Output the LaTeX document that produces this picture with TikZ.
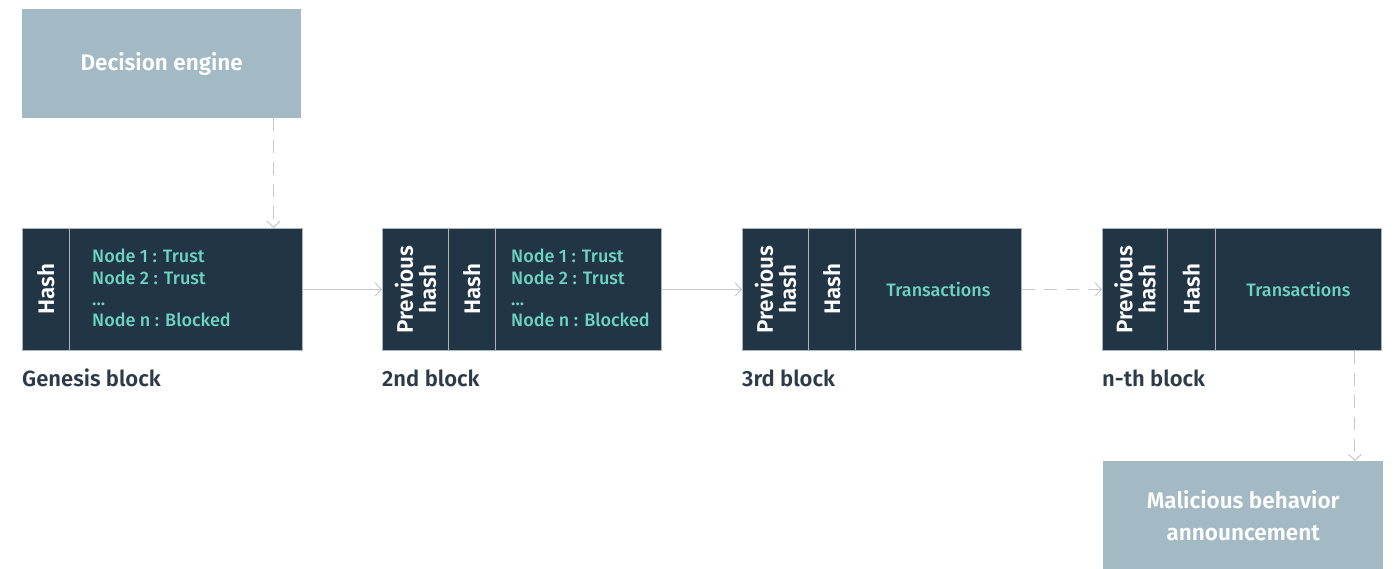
\documentclass[tikz,border=0pt]{standalone}
\usepackage{fontspec}
\IfFontExistsTF{Fira Sans SemiBold}
  {\setmainfont{Fira Sans}[BoldFont={Fira Sans SemiBold}]}
  {\setmainfont{Fira Sans}}
\IfFontExistsTF{Fira Sans Medium}
  {\newfontfamily\medfont{Fira Sans Medium}}
  {\newfontfamily\medfont{Fira Sans}}
\usetikzlibrary{arrows.meta}
\definecolor{darkcell}{HTML}{213545}
\definecolor{palebox}{HTML}{A3BAC4}
\definecolor{tealtext}{HTML}{6DD4C2}
\definecolor{lbltext}{HTML}{2B3B4A}
\definecolor{conncol}{HTML}{C8C8C8}
\definecolor{edgecol}{HTML}{A9B4BC}
\begin{document}
\begin{tikzpicture}[x=1pt,y=-1pt,
  cell/.style={draw=edgecol, line width=0.8pt, fill=darkcell, minimum height=122pt, inner sep=0pt, anchor=north west},
  rot/.style={rotate=90, align=center, text=white, font=\fontsize{22.5}{23}\selectfont\bfseries},
  tealnode/.style={text=tealtext, align=left, inner sep=0pt, font=\medfont\fontsize{18}{21.3}\selectfont},
  lbl/.style={text=lbltext, anchor=west, inner sep=0pt, font=\fontsize{22}{24}\selectfont\bfseries},
  palenode/.style={fill=palebox, text=white, align=center, inner sep=0pt, anchor=north west, font=\fontsize{22.5}{32}\selectfont\bfseries},
  conn/.style={draw=conncol, line width=1pt, -{Straight Barb[length=6pt,width=13pt]}},
  dconn/.style={conn, dash pattern=on 13pt off 9pt}
]
\useasboundingbox (0,0) rectangle (1397,569);

\node[palenode, minimum width=279pt, minimum height=109pt] (de) at (22,9) {Decision engine};

% Genesis block
\node[cell, minimum width=47pt] (g1) at (22,228) {};
\node[rot] at (g1.center) {Hash};
\node[cell, minimum width=233pt] (g2) at (69,228) {};
\node[tealnode, anchor=west] (g2t) at (92,288) {Node 1 : Trust\\Node 2 : Trust\\...\\Node n : Blocked};
\node[lbl] (gl) at (22,378) {Genesis block};

% 2nd block
\node[cell, minimum width=66pt] (b1) at (382,228) {};
\node[rot] at (b1.center) {Previous\\hash};
\node[cell, minimum width=47pt] (b2) at (448,228) {};
\node[rot] at (b2.center) {Hash};
\node[cell, minimum width=166pt] (b3) at (495,228) {};
\node[tealnode, anchor=west] (b3t) at (511,288) {Node 1 : Trust\\Node 2 : Trust\\...\\Node n : Blocked};
\node[lbl] (bl) at (382,378) {2nd block};

% 3rd block
\node[cell, minimum width=66pt] (c1) at (742,228) {};
\node[rot] at (c1.center) {Previous\\hash};
\node[cell, minimum width=47pt] (c2) at (808,228) {};
\node[rot] at (c2.center) {Hash};
\node[cell, minimum width=166pt] (c3) at (855,228) {};
\node[tealnode] (c3t) at (c3.center) {Transactions};
\node[lbl] (cl) at (742,378) {3rd block};

% n-th block
\node[cell, minimum width=65pt] (n1) at (1102,228) {};
\node[rot] at (n1.center) {Previous\\hash};
\node[cell, minimum width=48pt] (n2) at (1167,228) {};
\node[rot] at (n2.center) {Hash};
\node[cell, minimum width=166pt] (n3) at (1215,228) {};
\node[tealnode] (n3t) at (n3.center) {Transactions};
\node[lbl] (nl) at (1102,378) {n-th block};

\node[palenode, minimum width=280pt, minimum height=108pt] (mal) at (1103,461) {Malicious behavior\\announcement};

% connectors
\draw[dconn] (de.south east) ++(-28,0) coordinate (ds) -- (ds |- g2.north);
\draw[conn] (g2.east) -- (b1.west);
\draw[conn] (b3.east) -- (c1.west);
\draw[dconn] (c3.east) -- (n1.west);
\draw[dconn] (n3.south east) ++(-27,0) coordinate (ns) -- (ns |- mal.north);
\end{tikzpicture}
\end{document}
